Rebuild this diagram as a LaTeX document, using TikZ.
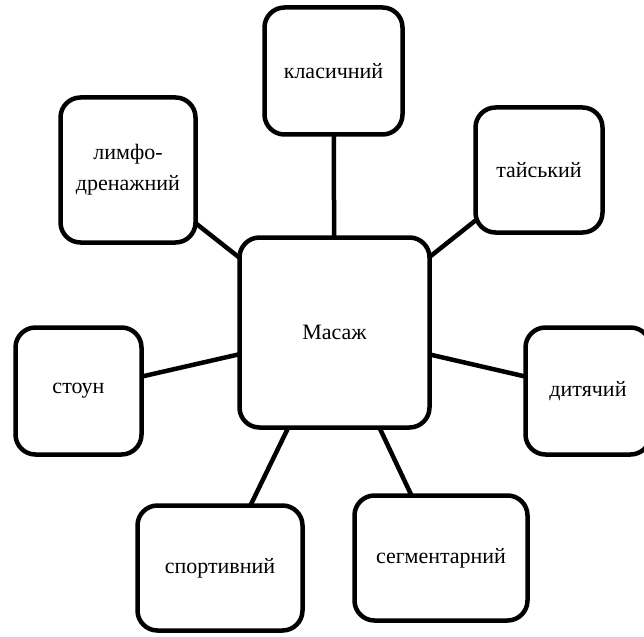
\documentclass[tikz,border=0pt]{standalone}
\usepackage{fontspec}
\setmainfont{Liberation Serif}
\usetikzlibrary{backgrounds}
\begin{document}
\begin{tikzpicture}[x=1pt,y=-1pt,
  box/.style={draw=black, line width=4.5pt, rounded corners=20pt, fill=white,
    inner sep=0pt, align=center, font=\fontsize{22}{31}\selectfont},
  link/.style={draw=black, line width=4.5pt}]
\path[use as bounding box, clip] (0,0) rectangle (644,636);
\node[box, minimum width=190pt, minimum height=190pt] (c) at (334.5,332.5) {Масаж};
\node[box, minimum width=138pt, minimum height=127pt] (k) at (333.5,71) {класичний};
\node[box, minimum width=127pt, minimum height=125pt] (t) at (539,170) {тайський};
\node[box, minimum width=135pt, minimum height=145pt] (l) at (128,170) {лимфо-\\дренажний};
\node[box, minimum width=126pt, minimum height=127pt] (s) at (78.5,391) {стоун};
\node[box, minimum width=125pt, minimum height=127pt] (d) at (588,391) {дитячий};
\node[box, minimum width=165pt, minimum height=125pt] (sp) at (220,568) {спортивний};
\node[box, minimum width=173pt, minimum height=125pt] (sg) at (441,558) {сегментарний};
\begin{pgfonlayer}{background}
\draw[link] (c.center) -- (k.center);
\draw[link] (c.center) -- (t.center);
\draw[link] (c.center) -- (l.center);
\draw[link] (c.center) -- (s.center);
\draw[link] (c.center) -- (d.center);
\draw[link] (c.center) -- (sp.center);
\draw[link] (c.center) -- (sg.center);
\end{pgfonlayer}
\end{tikzpicture}
\end{document}
